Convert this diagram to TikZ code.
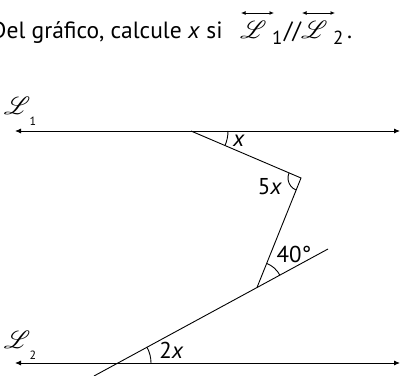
\documentclass[tikz,border=0pt]{standalone}
\usepackage{amsmath}
\usepackage{mathrsfs}
\usepackage{fontspec}
\setmainfont{PT Sans}
\usetikzlibrary{arrows.meta,angles}
\tikzset{
  ln/.style={line width=0.9bp, draw=black},
  dbl/.style={ln, {Latex[length=6bp,width=5bp]}-{Latex[length=6bp,width=5bp]}},
  tarr/.style={line width=0.9bp, {Latex[length=4.5bp,width=4bp]}-{Latex[length=4.5bp,width=4bp]}},
  ttl/.style={anchor=base west, inner sep=0pt, font=\fontsize{23.6}{26}\selectfont},
  tscr/.style={anchor=base west, inner sep=0pt, font=\fontsize{27}{29}\selectfont},
  tsub/.style={anchor=base west, inner sep=0pt, font=\fontsize{19}{21}\selectfont},
  lbl/.style={inner sep=0pt, font=\fontsize{23}{26}\selectfont},
  scr/.style={inner sep=0pt, font=\fontsize{24}{26}\selectfont},
  sub/.style={inner sep=0pt, font=\fontsize{12}{14}\selectfont},
  arcm/.style={draw, line width=0.9bp}
}
\begin{document}
\begin{tikzpicture}[x=1bp,y=1bp]
\useasboundingbox (0,0) rectangle (403,376);
% title
\node[ttl] (t1) at (-9,338) {Del gráfico, calcule \textit{x} si};
\node[tscr] (tL1) at (240,338) {$\mathscr{L}$};
\node[tsub] (ts1) at (272,332) {1};
\node[ttl] (tsl) at (284,338) {//};
\node[tscr] (tL2) at (301,338) {$\mathscr{L}$};
\node[tsub] (ts2) at (333,332) {2};
\node[ttl] (tpt) at (347,338) {.};
\draw[tarr] (tL1.base west) ++(1,25) -- ++(33,0);
\draw[tarr] (tL2.base west) ++(1,25) -- ++(33,0);
% points
\coordinate (L1a) at (15,245);
\coordinate (L1b) at (400,245);
\coordinate (L2a) at (15,13);
\coordinate (L2b) at (400,13);
\coordinate (A) at (191,245);
\coordinate (B) at (301,198);
\coordinate (C) at (257,88.5);
\coordinate (D) at (118,13);
\coordinate (E) at (328,127);
\coordinate (F) at (94,0);
\coordinate (Ar) at (260,245);
\coordinate (Dr) at (200,13);
% lines
\draw[dbl] (L1a) -- (L1b);
\draw[dbl] (L2a) -- (L2b);
\draw[ln] (A) -- (B) -- (C);
\draw[ln] (F) -- (E);
% angle marks
\pic[arcm, angle radius=37bp] {angle = B--A--Ar};
\pic[arcm, angle radius=13bp] {angle = A--B--C};
\pic[arcm, angle radius=26bp] {angle = E--C--B};
\pic[arcm, angle radius=33bp] {angle = Dr--D--E};
% labels
\node[scr] (n1) at (17,270) {$\mathscr{L}$};
\node[sub] (s1) at (33,255) {1};
\node[scr] (n2) at (17,36) {$\mathscr{L}$};
\node[sub] (s2) at (33,20.5) {2};
\node[lbl] (lx) at (239,235.5) {\textit{x}};
\node[lbl] (l5x) at (270,189.5) {5\textit{x}};
\node[lbl] (l40) at (294,122) {40°};
\node[lbl] (l2x) at (171.5,25.5) {2\textit{x}};
\end{tikzpicture}
\end{document}
